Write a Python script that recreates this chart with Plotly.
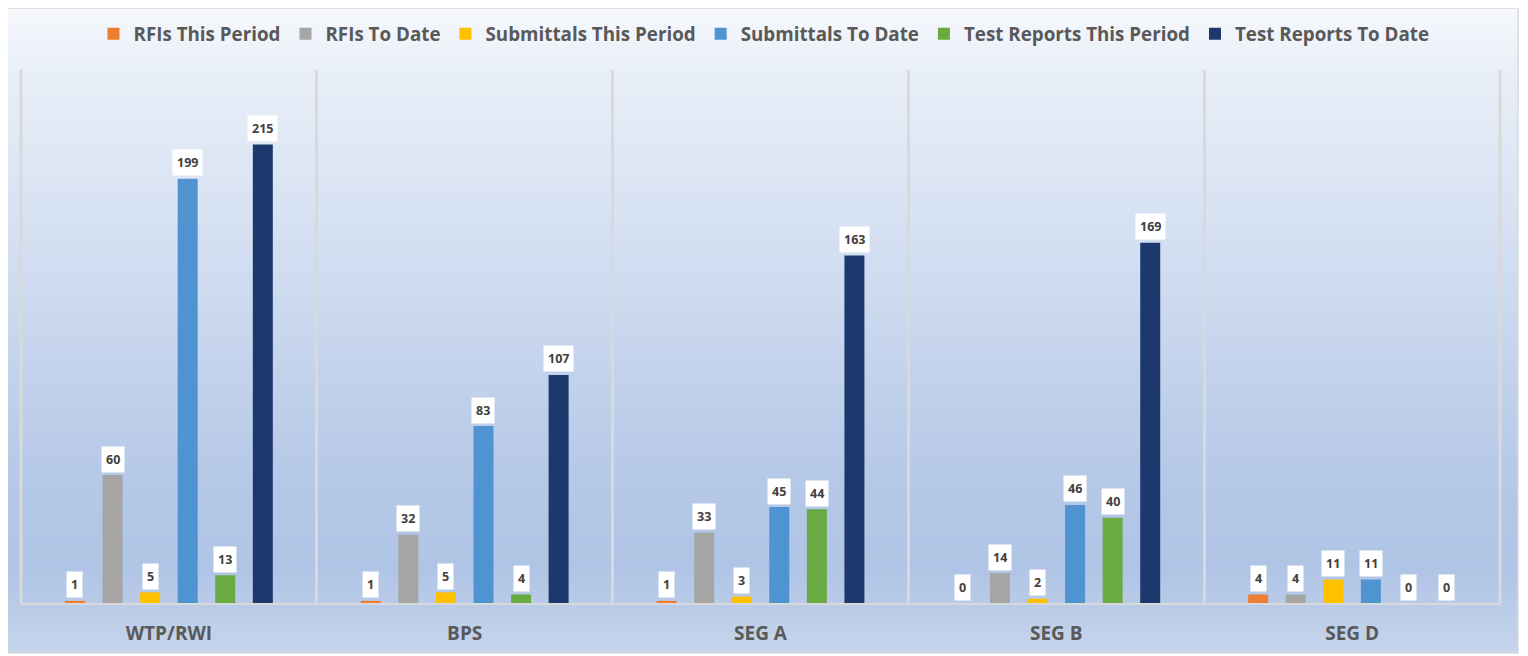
import plotly.graph_objects as go

categories = ["WTP/RWI", "BPS", "SEG A", "SEG B", "SEG D"]
series_names = ["RFIs This Period", "RFIs To Date", "Submittals This Period",
                "Submittals To Date", "Test Reports This Period", "Test Reports To Date"]
rfis_this_period = [1, 1, 1, 0, 4]
rfis_to_date = [60, 32, 33, 14, 4]
submittals_this_period = [5, 5, 3, 2, 11]
submittals_to_date = [199, 83, 45, 46, 11]
test_reports_this_period = [13, 4, 44, 40, 0]
test_reports_to_date = [215, 107, 163, 169, 0]

series_values = [rfis_this_period, rfis_to_date, submittals_this_period,
                 submittals_to_date, test_reports_this_period, test_reports_to_date]
colors = ["#ED7D31", "#A5A5A5", "#FFC000", "#4F94D0", "#6AAA42", "#1C386D"]

OFF = 8  # page body margin
W, H = 1528 - OFF, 656 - OFF
ML, MT = 21 - OFF, 70 - OFF
MR = W - (1500 - OFF)
MB = H - (603 - OFF)
BARGAP, BARGROUPGAP = 0.238, 0.468
TEXT = "#595959"

fig = go.Figure()
for name, vals, col in zip(series_names, series_values, colors):
    fig.add_trace(go.Bar(x=categories, y=vals, name=name, marker=dict(color=col, line=dict(width=0))))

n = len(series_names)
grp = 1 - BARGAP
for i, vals in enumerate(series_values):
    off = -grp / 2 + (i + 0.5) * grp / n
    for ci, v in enumerate(vals):
        fig.add_annotation(x=ci + off, y=v, xref="x", yref="y", text=f"<b>{v}</b>",
                           showarrow=False, yanchor="middle", yshift=16,
                           bgcolor="white", borderpad=4,
                           font=dict(family="Open Sans", size=12.5, color="#404040"))

plot_h = H - MT - MB
plot_w = W - ML - MR
def py(ys):  # screen y -> paper
    return (H - (ys - OFF) - MB) / plot_h
def px(xs):  # screen x -> paper
    return ((xs - OFF) - ML) / plot_w
def cy(ys):  # screen y -> container
    return (H - (ys - OFF)) / H

stops = [(8, (246, 248, 252)), (70, (233, 239, 248)), (280, (207, 220, 240)),
         (480, (181, 200, 231)), (570, (176, 196, 229)), (653, (198, 213, 236))]
def col_at(y):
    for (y0, c0), (y1, c1) in zip(stops[:-1], stops[1:]):
        if y0 <= y <= y1:
            t = (y - y0) / (y1 - y0)
            return "rgb(%d,%d,%d)" % tuple(round(a + (b - a) * t) for a, b in zip(c0, c1))
    return "rgb(%d,%d,%d)" % stops[-1][1]

shapes = []
step = 3
y = 8
while y < 653:
    y2 = min(y + step, 653)
    shapes.append(dict(type="rect", xref="paper", yref="paper", layer="below",
                       x0=px(3), x1=px(1518), y0=py(min(y2 + 2, 653)), y1=py(y),
                       fillcolor=col_at((y + y2) / 2), line=dict(width=0)))
    y = y2
shapes.append(dict(type="rect", xref="paper", yref="paper", layer="below",
                   x0=px(3), x1=px(1518), y0=py(653), y1=py(8),
                   fillcolor="rgba(0,0,0,0)", line=dict(color="#D9D9D9", width=1.5)))
for xe in (0, 1):
    shapes.append(dict(type="line", xref="paper", yref="paper", layer="below",
                       x0=xe, x1=xe, y0=0, y1=1, line=dict(color="#D9D9D9", width=3)))

fig.update_layout(
    width=W, height=H,
    margin=dict(l=ML, r=MR, t=MT, b=MB, autoexpand=False),
    paper_bgcolor="white", plot_bgcolor="rgba(0,0,0,0)",
    barmode="group", bargap=BARGAP, bargroupgap=BARGROUPGAP,
    shapes=shapes,
    showlegend=True,
    legend=dict(orientation="h", x=px(764), xanchor="center",
                yref="container", y=cy(34), yanchor="middle",
                font=dict(family="Open Sans", size=18.8, color=TEXT, weight="bold"),
                bgcolor="rgba(0,0,0,0)", traceorder="normal"),
    xaxis=dict(type="category", tickson="boundaries", showgrid=True, gridcolor="#D9D9D9",
               gridwidth=3, showline=True, linecolor="#D9D9D9", linewidth=2,
               ticks="", ticklabelstandoff=12, automargin=False,
               tickfont=dict(family="Open Sans", size=19, color=TEXT, weight="bold")),
    yaxis=dict(range=[0, 250], visible=False, showgrid=False, zeroline=False),
    font=dict(family="Open Sans"),
)

fig.write_html("out.html")
